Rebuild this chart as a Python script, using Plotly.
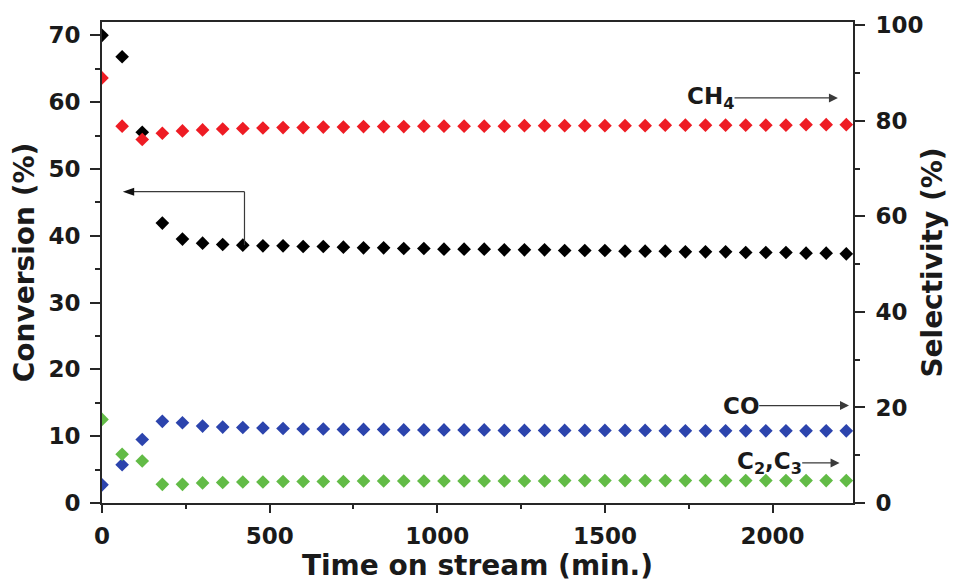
import plotly.graph_objects as go

# Time on stream (min.)
time_min = [0, 60, 120, 180, 240, 300, 360, 420, 480, 540, 600, 660, 720, 780,
            840, 900, 960, 1020, 1080, 1140, 1200, 1260, 1320, 1380, 1440, 1500,
            1560, 1620, 1680, 1740, 1800, 1860, 1920, 1980, 2040, 2100, 2160, 2220]

# CO2 conversion (%), left axis
conversion = [70.0, 66.8, 55.5, 41.9, 39.5, 38.9, 38.7, 38.6, 38.5, 38.5, 38.4, 38.4,
              38.3, 38.2, 38.2, 38.1, 38.1, 38.0, 38.0, 38.0, 37.9, 37.9, 37.9, 37.8,
              37.8, 37.8, 37.7, 37.7, 37.7, 37.6, 37.6, 37.6, 37.5, 37.5, 37.5, 37.4,
              37.4, 37.3]

# Selectivities (%), right axis
sel_ch4 = [89.0, 78.9, 76.1, 77.4, 77.9, 78.1, 78.3, 78.4, 78.5, 78.6, 78.6, 78.7,
           78.7, 78.8, 78.8, 78.8, 78.9, 78.9, 78.9, 78.9, 78.9, 79.0, 79.0, 79.0,
           79.0, 79.0, 79.0, 79.0, 79.1, 79.1, 79.1, 79.1, 79.1, 79.1, 79.1, 79.2,
           79.2, 79.2]
sel_co = [3.8, 8.0, 13.3, 17.1, 16.8, 16.1, 15.9, 15.8, 15.7, 15.6, 15.5, 15.5,
          15.4, 15.4, 15.4, 15.3, 15.3, 15.3, 15.3, 15.3, 15.2, 15.2, 15.2, 15.2,
          15.2, 15.2, 15.2, 15.2, 15.1, 15.1, 15.1, 15.1, 15.1, 15.1, 15.1, 15.1,
          15.1, 15.1]
sel_c2c3 = [17.5, 10.2, 8.8, 3.9, 3.9, 4.2, 4.3, 4.4, 4.4, 4.5, 4.5, 4.5,
            4.5, 4.6, 4.6, 4.6, 4.6, 4.6, 4.6, 4.6, 4.6, 4.6, 4.6, 4.7,
            4.7, 4.7, 4.7, 4.7, 4.7, 4.7, 4.7, 4.7, 4.7, 4.7, 4.7, 4.7,
            4.7, 4.7]

FONT = "DejaVu Sans"
AXIS_COLOR = "#262626"
ARROW_COLOR = "#3a3a3a"

fig = go.Figure()

def diamonds(y, color, axis):
    return go.Scatter(x=time_min, y=y, mode="markers", yaxis=axis,
                      marker=dict(symbol="diamond", size=10.5, color=color,
                                  line=dict(width=0)),
                      showlegend=False, hoverinfo="skip")

fig.add_trace(diamonds(conversion, "#000000", "y"))
fig.add_trace(diamonds(sel_co, "#2c44ad", "y2"))
fig.add_trace(diamonds(sel_ch4, "#ee1c24", "y2"))
fig.add_trace(diamonds(sel_c2c3, "#62bb46", "y2"))

tick_font = dict(family=FONT, size=23, color="#1a1a1a", weight="bold")
title_font = dict(family=FONT, size=28, color="#1a1a1a", weight="bold")

fig.update_layout(
    width=955, height=586, autosize=False,
    margin=dict(l=102, r=92, t=18, b=83),
    plot_bgcolor="white", paper_bgcolor="white",
    xaxis=dict(
        range=[0, 2240], tickvals=[0, 500, 1000, 1500, 2000],
        ticks="outside", ticklen=8, tickwidth=2, tickcolor=AXIS_COLOR,
        minor=dict(dtick=250, ticks="outside", ticklen=4, tickwidth=2, tickcolor=AXIS_COLOR),
        showline=True, linewidth=2, linecolor=AXIS_COLOR, mirror=True,
        showgrid=False, zeroline=False, tickfont=tick_font, ticklabelstandoff=3,
        title=dict(text="Time on stream (min.)", font=title_font, standoff=2),
    ),
    yaxis=dict(
        range=[0, 72], dtick=10, tick0=0,
        ticks="outside", ticklen=10, tickwidth=2, tickcolor=AXIS_COLOR,
        minor=dict(dtick=5, ticks="outside", ticklen=5, tickwidth=2, tickcolor=AXIS_COLOR),
        showline=True, linewidth=2, linecolor=AXIS_COLOR,
        showgrid=False, zeroline=False, tickfont=tick_font, ticklabelstandoff=5,
        title=dict(text="Conversion (%)", font=title_font, standoff=6),
    ),
    yaxis2=dict(
        range=[0, 100.7], dtick=20, tick0=0, overlaying="y", side="right",
        ticks="outside", ticklen=10, tickwidth=2, tickcolor=AXIS_COLOR,
        minor=dict(dtick=10, ticks="outside", ticklen=5, tickwidth=2, tickcolor=AXIS_COLOR),
        showline=True, linewidth=2, linecolor=AXIS_COLOR,
        showgrid=False, zeroline=False, tickfont=tick_font, ticklabelstandoff=6,
        title=dict(text="Selectivity (%)", font=title_font, standoff=0),
    ),
)

# bracket pointing from the conversion series to the left axis
bracket_x, bracket_y, bracket_end = 425, 46.6, 62
fig.add_shape(type="line", xref="x", yref="y", x0=bracket_x, x1=bracket_x,
              y0=38.6, y1=bracket_y, line=dict(color=ARROW_COLOR, width=1.2))
fig.add_shape(type="line", xref="x", yref="y", x0=bracket_x, x1=bracket_end + 20,
              y0=bracket_y, y1=bracket_y, line=dict(color=ARROW_COLOR, width=1.2))
fig.add_shape(type="path", xref="x", yref="y",
              path=f"M {bracket_end},{bracket_y} L {bracket_end + 34},{bracket_y + 0.6} "
                   f"L {bracket_end + 34},{bracket_y - 0.6} Z",
              fillcolor="#111111", line=dict(width=0))

# selectivity labels with arrows toward the right axis
label_font = dict(family=FONT, size=23, color="#1a1a1a", weight="bold")
labels = [
    ("CH<sub>4</sub>", 1815, 84.8, 2195),
    ("CO", 1905, 20.4, 2228),
    ("C<sub>2</sub>,C<sub>3</sub>", 1990, 8.4, 2200),
]
for text, tx, ty, x_head in labels:
    fig.add_annotation(x=x_head, y=ty, ax=tx, ay=ty, xref="x", yref="y2",
                       axref="x", ayref="y2", text=text, font=label_font,
                       showarrow=True, arrowhead=2, arrowsize=1.5, arrowwidth=1.2,
                       arrowcolor=ARROW_COLOR, standoff=0, borderpad=0)

fig.write_html("out.html")
